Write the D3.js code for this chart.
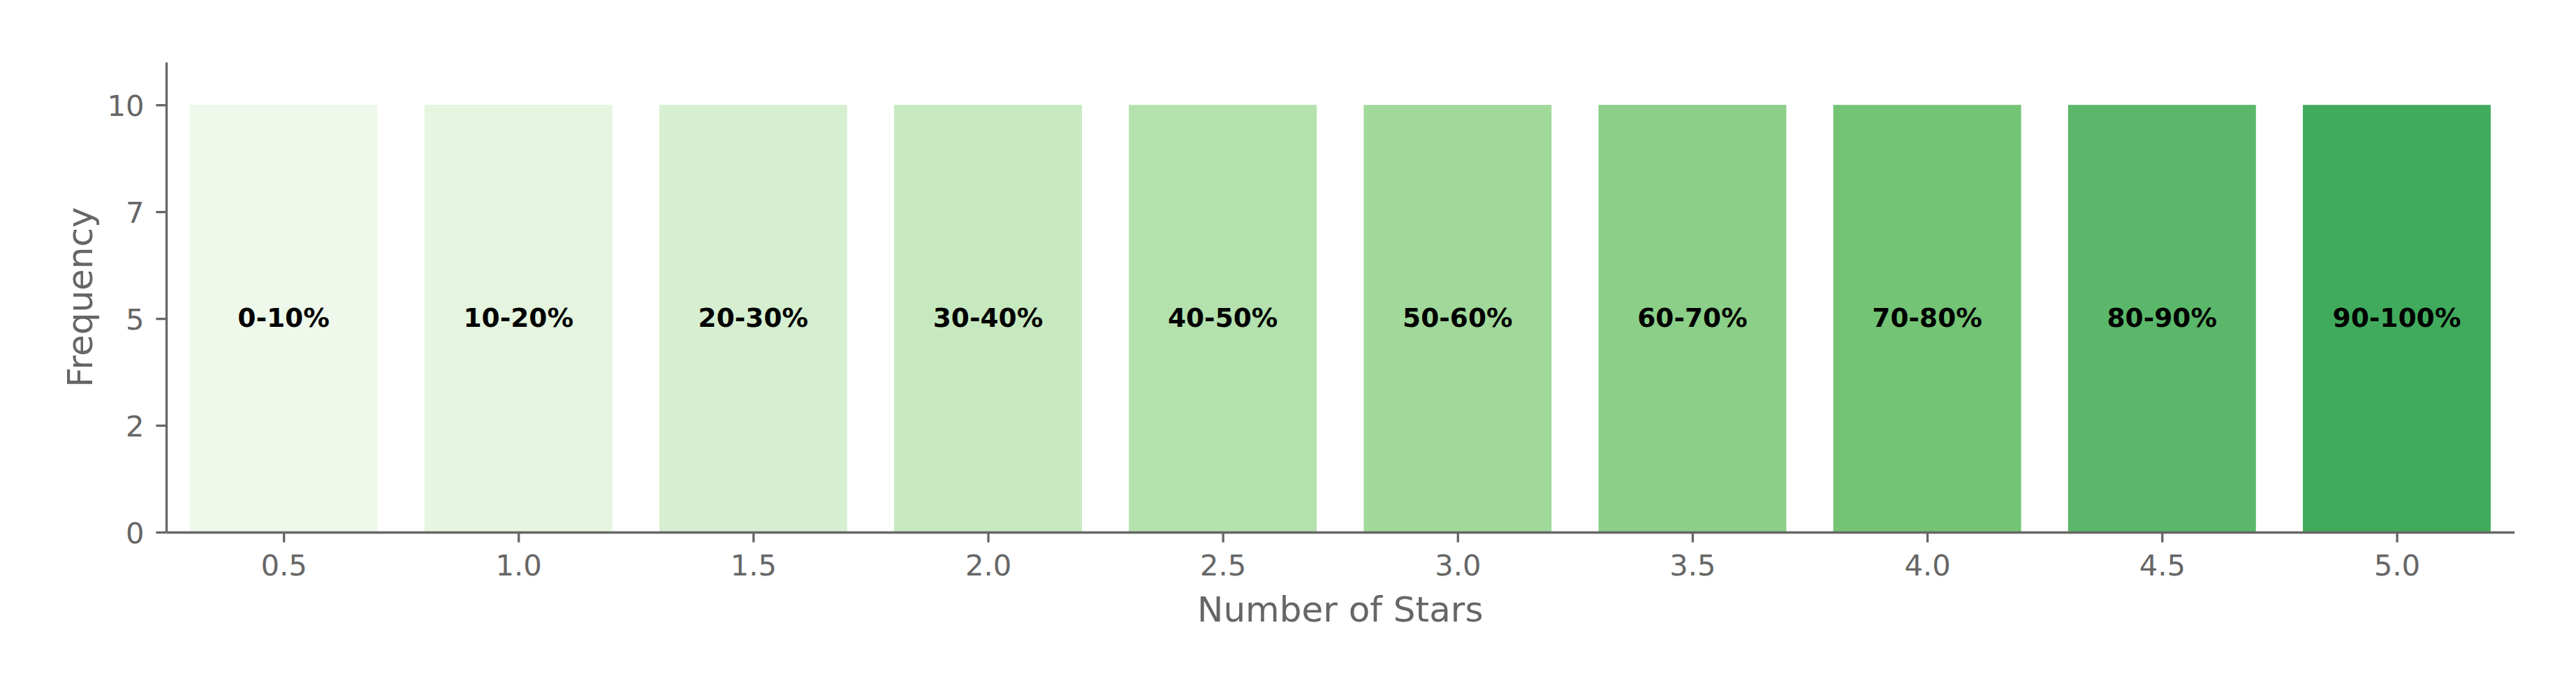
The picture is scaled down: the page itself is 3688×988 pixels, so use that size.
<!DOCTYPE html>
<html>
<head>
<meta charset="utf-8">
<script src="https://cdn.jsdelivr.net/npm/d3@7"></script>
<style>
  body { margin: 0; background: #fff; }
  svg { display: block; font-family: "DejaVu Sans", sans-serif; }
</style>
</head>
<body>
<svg id="chart" width="3688" height="988"></svg>
<script>
// chart data
var stars = [0.5, 1.0, 1.5, 2.0, 2.5, 3.0, 3.5, 4.0, 4.5, 5.0];
var frequency = [10, 10, 10, 10, 10, 10, 10, 10, 10, 10];
var rangeLabels = ["0-10%", "10-20%", "20-30%", "30-40%", "40-50%",
                   "50-60%", "60-70%", "70-80%", "80-90%", "90-100%"];
var yTickValues = [0, 2.5, 5, 7.5, 10];
var yTickLabels = ["0", "2", "5", "7", "10"];

var svg = d3.select("#chart"),
    grey = "#666666";

var margin = {left: 238, right: 3688 - 3599.5, top: 89, bottom: 988 - 762};

var x = d3.scaleLinear()
    .domain([0.25, 5.25])
    .range([margin.left, 3688 - margin.right]);
var y = d3.scaleLinear()
    .domain([0, 11])
    .range([988 - margin.bottom, margin.top]);

// matplotlib "Greens" anchors, linear in rgb
var greens = d3.scaleLinear()
    .domain([0, 0.125, 0.25, 0.375, 0.5, 0.625, 0.75, 0.875, 1])
    .range(["#f7fcf5", "#e5f5e0", "#c7e9c0", "#a1d99b", "#74c476",
            "#41ab5d", "#238b45", "#006d2c", "#00441b"])
    .interpolate(d3.interpolateRgb);

var barW = 0.4;

var bars = svg.append("g").selectAll("rect")
    .data(stars)
  .enter().append("rect")
    .attr("x", function(d) { return x(d - barW / 2); })
    .attr("width", function(d) { return x(d + barW / 2) - x(d - barW / 2); })
    .attr("y", function(d, i) { return y(frequency[i]); })
    .attr("height", function(d, i) { return y(0) - y(frequency[i]); })
    .style("fill", function(d, i) { return greens((i + 1) / 16); });

svg.append("g").selectAll("text")
    .data(stars)
  .enter().append("text")
    .attr("x", function(d) { return x(d); })
    .attr("y", function(d, i) { return y(frequency[i] / 2); })
    .attr("dy", "0.31em")
    .attr("text-anchor", "middle")
    .style("font-size", "37.5px")
    .style("font-weight", "bold")
    .style("fill", "#000")
    .text(function(d, i) { return rangeLabels[i]; });

// axes
var xAxis = d3.axisBottom(x)
    .tickValues(stars)
    .tickFormat(d3.format(".1f"))
    .tickSizeInner(14.6)
    .tickSizeOuter(0)
    .tickPadding(14.6);

var yAxis = d3.axisLeft(y)
    .tickValues(yTickValues)
    .tickFormat(function(d, i) { return yTickLabels[i]; })
    .tickSizeInner(14.6)
    .tickSizeOuter(0)
    .tickPadding(17);

var gx = svg.append("g")
    .attr("transform", "translate(0," + y(0) + ")")
    .call(xAxis);
var gy = svg.append("g")
    .attr("transform", "translate(" + x(0.25) + ",0)")
    .call(yAxis);

[gx, gy].forEach(function(g) {
  g.select(".domain").attr("stroke", grey).attr("stroke-width", 3.33);
  g.selectAll(".tick line").attr("stroke", grey).attr("stroke-width", 3.33);
  g.selectAll(".tick text")
    .attr("fill", grey)
    .style("font-size", "41.67px")
    .style("font-family", "DejaVu Sans, sans-serif");
});
gx.selectAll(".tick text").attr("dy", "0.78em");
gy.selectAll(".tick text").attr("dy", "0.36em");

// axis titles
svg.append("text")
    .attr("x", (x.range()[0] + x.range()[1]) / 2)
    .attr("y", 890)
    .attr("text-anchor", "middle")
    .style("font-size", "50px")
    .style("fill", grey)
    .text("Number of Stars");

svg.append("text")
    .attr("transform", "translate(132," + (y.range()[0] + y.range()[1]) / 2 + ") rotate(-90)")
    .attr("text-anchor", "middle")
    .style("font-size", "50px")
    .style("fill", grey)
    .text("Frequency");
</script>
</body>
</html>
